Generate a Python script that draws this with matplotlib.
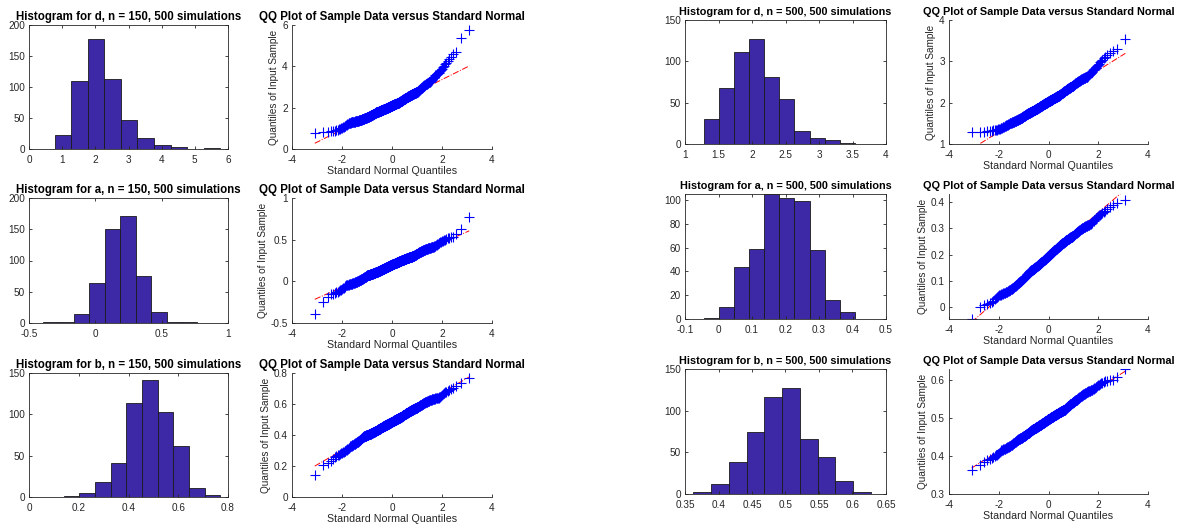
import matplotlib
matplotlib.use("Agg")
import matplotlib.pyplot as plt
import numpy as np
from statistics import NormalDist
from matplotlib.ticker import FuncFormatter

plt.rcParams['font.family'] = ['Liberation Sans', 'DejaVu Sans']

# range (min, max) of the 500 simulated estimates and the 10 hist bin counts
d150_range = (0.77, 5.77)
d150_counts = [22, 110, 178, 113, 46, 18, 7, 4, 0, 2]
a150_range = (-0.395, 0.77)
a150_counts = [1, 2, 14, 64, 150, 172, 76, 18, 2, 1]
b150_range = (0.139, 0.769)
b150_counts = [1, 5, 18, 41, 114, 142, 103, 62, 11, 3]
d500_range = (1.279, 3.537)
d500_counts = [30, 68, 111, 127, 81, 54, 16, 7, 5, 1]
a500_range = (-0.044, 0.407)
a500_counts = [1, 10, 44, 59, 105, 102, 99, 58, 16, 6]
b500_range = (0.3624, 0.6276)
b500_counts = [3, 12, 38, 75, 116, 127, 66, 45, 16, 2]

params = ['d', 'a', 'b', 'd', 'a', 'b']
sizes = [150, 150, 150, 500, 500, 500]
ranges = [d150_range, a150_range, b150_range, d500_range, a500_range, b500_range]
counts = [d150_counts, a150_counts, b150_counts, d500_counts, a500_counts, b500_counts]

# axis limits / ticks for each panel
hist_xlim = [(0, 6), (-0.5, 1), (0, 0.8), (1, 4), (-0.1, 0.5), (0.35, 0.65)]
hist_xticks = [np.arange(0, 6.1, 1), [-0.5, 0, 0.5, 1], np.arange(0, 0.81, 0.2),
               np.arange(1, 4.01, 0.5), np.arange(-0.1, 0.51, 0.1), np.arange(0.35, 0.651, 0.05)]
hist_ylim = [200, 200, 150, 150, 105, 150]
hist_ystep = [50, 50, 50, 50, 20, 50]
qq_ylim = [(0, 6), (-0.5, 1), (0, 0.8), (1, 4), (-0.044, 0.43), (0.3, 0.628)]
qq_yticks = [[0, 2, 4, 6], [-0.5, 0, 0.5, 1], [0, 0.2, 0.4, 0.6, 0.8], [1, 2, 3, 4],
             [0, 0.1, 0.2, 0.3, 0.4], [0.3, 0.4, 0.5, 0.6]]

W, H = 1180, 529
# pixel boxes: (left, right) per column, (top, bottom) per row
hist_cols = [(29, 228), (685, 886)]
qq_cols = [(292, 492), (949, 1148)]
rows = [[(25, 149), (198, 323), (373, 497)], [(20, 144), (194, 319), (369, 494)]]
title_size = [8.3, 7.8]

GRAY = '#262626'
fmt = FuncFormatter(lambda v, p: '%g' % round(v, 6))


def rebuild_sample(rng, cnt):
    # spread each bin's estimates evenly over the bin
    edges = np.linspace(rng[0], rng[1], len(cnt) + 1)
    vals = []
    for lo, hi, c in zip(edges[:-1], edges[1:], cnt):
        vals.extend(lo + (hi - lo) * (np.arange(c) + 0.5) / max(c, 1))
    vals = np.sort(np.array(vals))
    vals[0], vals[-1] = rng[0], rng[1]
    return vals


def box(l, r, t, b):
    return [l / W, 1 - b / H, (r - l) / W, (b - t) / H]


def style(ax, boxed):
    for s in ax.spines.values():
        s.set_color(GRAY)
        s.set_linewidth(0.6)
    if not boxed:
        ax.spines['top'].set_visible(False)
        ax.spines['right'].set_visible(False)
    ax.tick_params(direction='in', length=2.5, width=0.6, colors=GRAY,
                   labelsize=7.2, top=boxed, right=boxed)
    ax.tick_params(axis='x', pad=4)
    ax.tick_params(axis='y', pad=3)
    ax.xaxis.set_major_formatter(fmt)
    ax.yaxis.set_major_formatter(fmt)


fig = plt.figure(figsize=(W / 100, H / 100), dpi=100)

for i in range(6):
    side, r = divmod(i, 3)
    t, b = rows[side][r]
    data = rebuild_sample(ranges[i], counts[i])

    ax = fig.add_axes(box(*hist_cols[side], t, b))
    ax.hist(data, bins=10, range=ranges[i], color='#3D28A5', edgecolor='#1a1a1a', linewidth=0.6)
    ax.set_xlim(hist_xlim[i])
    ax.set_xticks(hist_xticks[i])
    ax.set_ylim(0, hist_ylim[i])
    ax.set_yticks(np.arange(0, hist_ylim[i] + 0.1, hist_ystep[i]))
    ax.set_title('Histogram for %s, n = %d, 500 simulations' % (params[i], sizes[i]),
                 fontsize=title_size[side], fontweight='bold', pad=3.5)
    style(ax, True)

    # normal QQ plot with quartile reference line
    n = len(data)
    nd = NormalDist()
    xq = np.array([nd.inv_cdf((k + 0.5) / n) for k in range(n)])
    q1, q3 = np.percentile(data, [25, 75])
    z1, z3 = nd.inv_cdf(0.25), nd.inv_cdf(0.75)
    slope = (q3 - q1) / (z3 - z1)
    xl = np.array([xq[0], xq[-1]])
    ax2 = fig.add_axes(box(*qq_cols[side], t, b))
    ax2.plot(xl, q1 + slope * (xl - z1), color='red', linestyle='-.', linewidth=0.7)
    ax2.plot(xq, data, linestyle='none', marker='+', color='blue', markersize=6.5, markeredgewidth=0.8)
    ax2.set_xlim(-4, 4)
    ax2.set_xticks([-4, -2, 0, 2, 4])
    ax2.set_ylim(qq_ylim[i])
    ax2.set_yticks(qq_yticks[i])
    ax2.set_title('QQ Plot of Sample Data versus Standard Normal',
                  fontsize=title_size[side], fontweight='bold', pad=3.5)
    ax2.set_xlabel('Standard Normal Quantiles', fontsize=7.7, color=GRAY, labelpad=1)
    ax2.set_ylabel('Quantiles of Input Sample', fontsize=7.2, color=GRAY, labelpad=2)
    style(ax2, False)

fig.savefig('out.png', dpi=100)
